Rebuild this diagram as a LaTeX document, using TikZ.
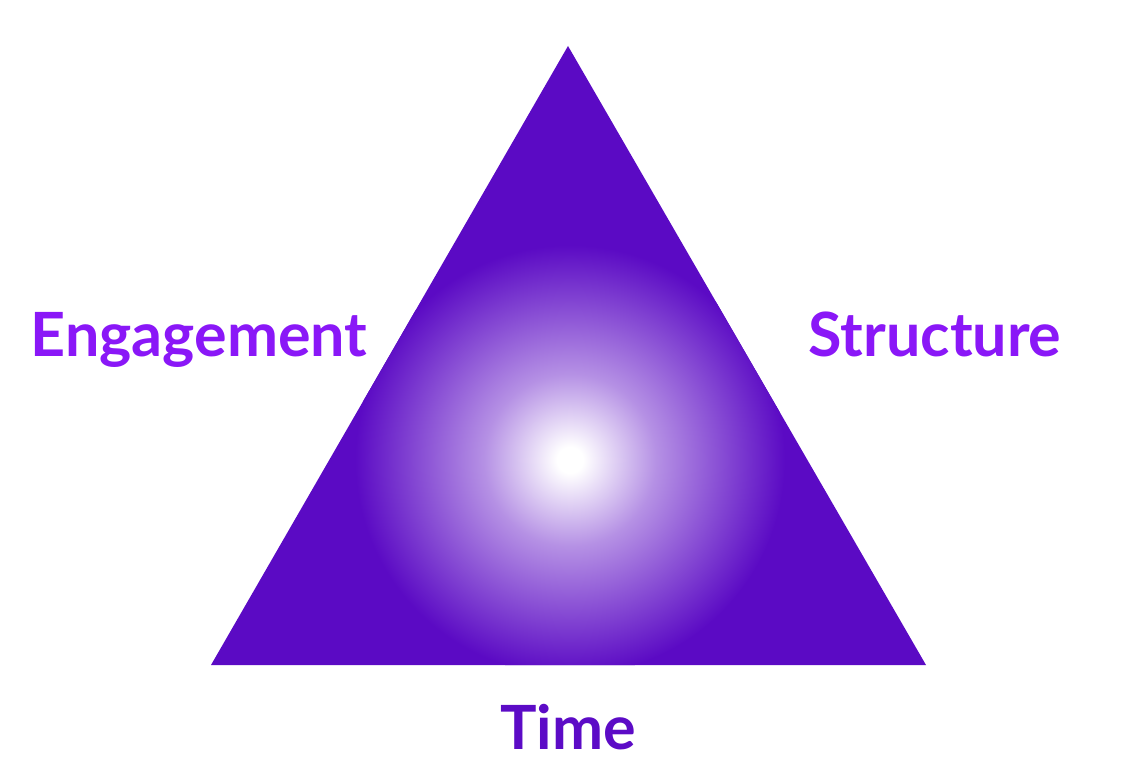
\documentclass[tikz,border=0pt]{standalone}
\usepackage{fontspec}
\setmainfont{Lato}
\definecolor{tri}{HTML}{5B0AC4}
\definecolor{lbl}{HTML}{8A17F7}
\definecolor{lbldark}{HTML}{5C0BC6}
\pgfdeclareradialshading{glow}{\pgfpoint{0bp}{0bp}}{color(0bp)=(white); color(1.5bp)=(white); color(10bp)=(tri!45!white); color(25bp)=(tri); color(50bp)=(tri)}
\tikzset{lab/.style={font=\fontsize{61}{61}\selectfont\bfseries, inner sep=0pt, anchor=base}}
\begin{document}
\begin{tikzpicture}[x=1pt,y=-1pt]
\useasboundingbox (0,0) rectangle (1130,784);
\coordinate (A) at (568,46);
\coordinate (B) at (211,665);
\coordinate (C) at (926,665);
\fill[tri] (A) -- (B) -- (C) -- cycle;
\begin{scope}
\clip (A) -- (B) -- (C) -- cycle;
\shade[shading=glow] (570,460) circle (215);
\end{scope}
\node[lab, text=lbl] (eng) at (199,356) {Engagement};
\node[lab, text=lbl] (str) at (935,356) {Structure};
\node[lab, text=lbldark] (time) at (568,749) {Time};
\end{tikzpicture}
\end{document}
